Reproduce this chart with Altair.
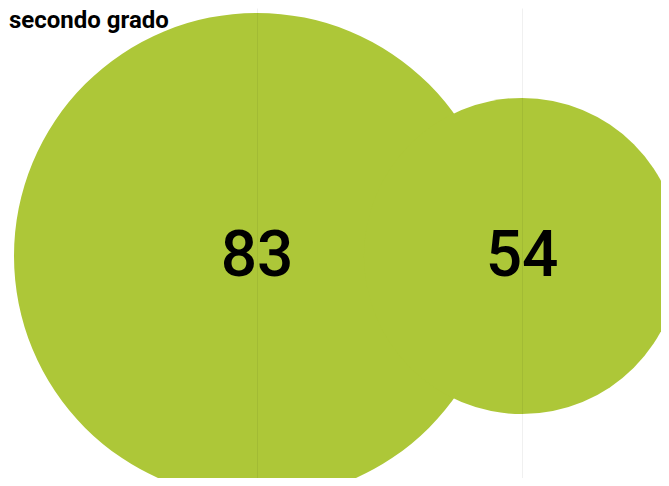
import altair as alt
import pandas as pd

categories = ["A", "B"]
values = [83, 54]
title_text = "secondo grado"

df = pd.DataFrame({"cat": categories, "value": values})

GREEN = "#adc738"
W, H = 653, 470

xenc = alt.X("cat:N", sort=categories,
             scale=alt.Scale(type="point", range=[249, 514], padding=0),
             axis=alt.Axis(title=None, labels=False, ticks=False, domain=False,
                           grid=True, gridColor="#000000", gridOpacity=0.06,
                           gridWidth=1, zindex=1))

base = alt.Chart(df)

circles = base.mark_circle(color=GREEN, opacity=1).encode(
    x=xenc,
    y=alt.value(248),
    size=alt.Size("value:Q", legend=None,
                  scale=alt.Scale(type="pow", exponent=2, domain=[0, 83], range=[0, 236196])),
)

labels = base.mark_text(font="Roboto", fontWeight=500, fontSize=64, color="#000000",
                        baseline="middle", align="center").encode(
    x=alt.X("cat:N", sort=categories),
    y=alt.value(249),
    text="value:Q",
)

title = alt.Chart(pd.DataFrame({"t": [title_text]})).mark_text(
    font="Roboto", fontWeight="bold", fontSize=24, color="#000000",
    align="left", baseline="top").encode(
    x=alt.value(1), y=alt.value(1), text="t:N")

chart = alt.layer(circles, labels, title).properties(
    width=W, height=H, padding=0,
    autosize=alt.AutoSizeParams(type="none"),
).configure_view(stroke=None)

chart.save("out.html", embed_options={"renderer": "svg", "actions": False})
